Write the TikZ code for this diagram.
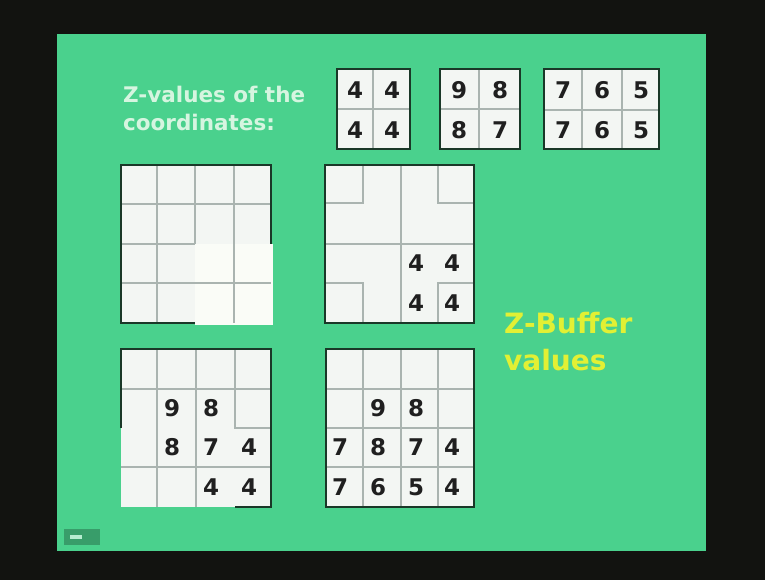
\documentclass[tikz,border=0pt]{standalone}
\usepackage{fontspec}
\setmainfont{DejaVu Sans}
\usetikzlibrary{positioning}
\definecolor{framedark}{RGB}{18, 19, 16}
\definecolor{slidegreen}{RGB}{74, 209, 141}
\definecolor{gridedge}{RGB}{26, 56, 40}
\definecolor{gridline}{RGB}{170, 180, 176}
\definecolor{cellbg}{RGB}{243, 246, 243}
\definecolor{patchbg}{RGB}{250, 252, 247}
\definecolor{titlemint}{RGB}{214, 245, 224}
\definecolor{bufferyellow}{RGB}{226, 240, 52}

\begin{document}
\begin{tikzpicture}[x=1pt, y=-1pt,
    edge/.style={draw=gridedge, line width=2.4pt, line cap=square},
    inner/.style={draw=gridline, line width=1.3pt},
    cell/.style={fill=cellbg},
    patch/.style={fill=patchbg},
    digit/.style={font=\fontsize{23}{23}\selectfont\bfseries, text=black!88, inner sep=0pt},
    title/.style={font=\fontsize{21.5}{28}\selectfont\bfseries, text=titlemint, align=left, inner sep=0pt},
    buffer/.style={font=\fontsize{28}{37}\selectfont\bfseries, text=bufferyellow, align=left, inner sep=0pt}
]
  \useasboundingbox (0,0) rectangle (765,580);
  \fill[framedark] (0,0) rectangle (765,580);
  \fill[slidegreen] (57,34) rectangle (706,551);

  % Labels (base = last line)
  \node[title, anchor=base west] (zlabel) at (123,131) {Z-values of the\\coordinates:};
  \node[buffer, anchor=base west] (zbuffer) at (504,370) {Z-Buffer\\values};

  % Z-values of the three polygons
  \fill[cell] (337,69) rectangle (410,149);
  \draw[inner] (373,69) -- (373,149) (337,109) -- (410,109);
  \draw[edge] (337,69) rectangle (410,149);
  \foreach \x/\y/\d [count=\i] in {355/90/4, 392/90/4, 355/130/4, 392/130/4}
    \node[digit] (pa-\i) at (\x,\y) {\d};

  \fill[cell] (440,69) rectangle (520,149);
  \draw[inner] (479,69) -- (479,149) (440,109) -- (520,109);
  \draw[edge] (440,69) rectangle (520,149);
  \foreach \x/\y/\d [count=\i] in {459/90/9, 500/90/8, 459/130/8, 500/130/7}
    \node[digit] (pb-\i) at (\x,\y) {\d};

  \fill[cell] (544,69) rectangle (659,149);
  \draw[inner] (582,69) -- (582,149) (622,69) -- (622,149) (544,110) -- (659,110);
  \draw[edge] (544,69) rectangle (659,149);
  \foreach \x/\y/\d [count=\i] in {563/90/7, 602/90/6, 641/90/5, 563/130/7, 602/130/6, 641/130/5}
    \node[digit] (pc-\i) at (\x,\y) {\d};

  % Buffer, empty
  \fill[cell] (121,165) rectangle (271,323);
  \fill[patch] (195,244) rectangle (273,325);
  \draw[inner] (157,165) -- (157,323) (234,165) -- (234,323) (195,165) -- (195,244)
    (121,204) -- (271,204) (121,244) -- (195,244) (121,283) -- (271,283);
  \draw[edge] (195,323) -- (121,323) -- (121,165) -- (271,165) -- (271,244);

  % Buffer after first polygon
  \fill[cell] (325,165) rectangle (474,323);
  \draw[inner] (363,165) -- (363,203) -- (325,203) (438,165) -- (438,203) -- (474,203)
    (401,165) -- (401,323) (325,244) -- (474,244)
    (325,283) -- (363,283) -- (363,323) (474,283) -- (438,283) -- (438,323);
  \draw[edge] (325,165) rectangle (474,323);
  \foreach \x/\y/\d [count=\i] in {416/263/4, 452/263/4, 416/303/4, 452/303/4}
    \node[digit] (ba-\i) at (\x,\y) {\d};

  % Buffer after second polygon
  \fill[cell] (121,349) rectangle (271,507);
  \draw[inner] (157,349) -- (157,507) (196,349) -- (196,507) (235,349) -- (235,428) -- (271,428)
    (121,389) -- (271,389) (121,467) -- (271,467);
  \draw[edge] (121,428) -- (121,349) -- (271,349) -- (271,507) -- (235,507);
  \foreach \x/\y/\d [count=\i] in {172/408/9, 211/408/8, 172/447/8, 211/447/7, 249/447/4,
      211/487/4, 249/487/4}
    \node[digit] (bb-\i) at (\x,\y) {\d};

  % Buffer after third polygon
  \fill[cell] (326,349) rectangle (474,507);
  \draw[inner] (363,349) -- (363,507) (401,349) -- (401,507) (438,349) -- (438,507)
    (326,389) -- (474,389) (326,428) -- (474,428) (326,467) -- (474,467);
  \draw[edge] (326,349) rectangle (474,507);
  \foreach \x/\y/\d [count=\i] in {378/408/9, 416/408/8,
      340/447/7, 378/447/8, 416/447/7, 452/447/4,
      340/487/7, 378/487/6, 416/487/5, 452/487/4}
    \node[digit] (bc-\i) at (\x,\y) {\d};

  % Player button
  \fill[slidegreen!75!black] (64,529) rectangle (100,545);
  \fill[slidegreen!40!white] (70,535) rectangle (82,539);
\end{tikzpicture}
\end{document}
